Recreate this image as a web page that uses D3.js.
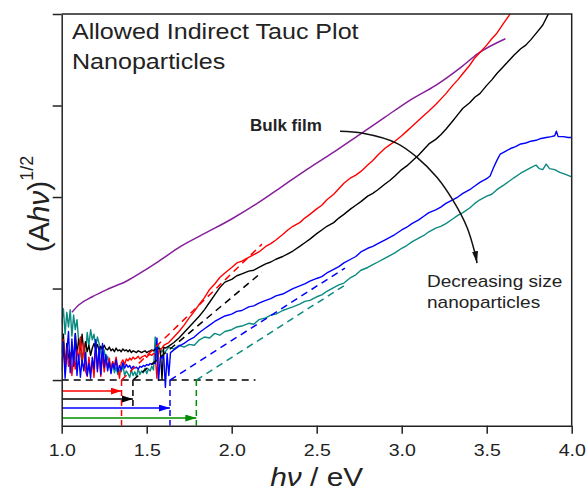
<!DOCTYPE html>
<html>
<head>
<meta charset="utf-8">
<script src="https://cdn.jsdelivr.net/npm/d3@7/dist/d3.min.js"></script>
<style>
  html, body { margin:0; padding:0; background:#fff; }
  svg { display:block; font-family: "Liberation Sans", Arial, sans-serif; }
</style>
</head>
<body>
<svg id="chart" width="588" height="491"></svg>
<script>
// Tauc plot (allowed indirect)

// noisy low-energy part, shared photon-energy grid (eV)
const lowX = [1.00,1.01,1.02,1.03,1.04,1.05,1.06,1.07,1.08,1.09,1.10,1.11,1.12,1.13,1.14,1.15,1.16,1.17,1.18,1.19,
  1.20,1.21,1.22,1.23,1.24,1.25,1.26,1.27,1.28,1.29,1.30,1.31,1.32,1.33,1.34,1.35,1.36,1.37,1.38,1.39,
  1.40,1.41,1.42,1.43,1.44,1.45,1.46,1.47,1.48,1.49,1.50,1.51,1.52,1.53,1.54,1.55,1.56,1.57,1.58,1.59,1.60];

const tealLow = [0.62,0.78,0.50,0.74,0.58,0.77,0.48, 0.71,0.55,0.66,0.42, 0.30,0.18,0.33,0.24,
  0.52,0.38,0.55,0.44,0.50,0.36,0.47,0.40, 0.30,0.22,0.33,0.19,0.26,0.15,
  0.12,0.20,0.08,0.14,0.06,0.11,0.09,0.16,0.05,0.10,
  0.07,0.03,0.11,0.05,0.09,0.04,0.12,0.06,0.10,0.08,0.13,0.07,0.12,0.10,0.15,0.11,
  0.47,0.20,0.38,0.29,0.33,0.30];
const blackLow = [0.30,0.50,0.12,0.40, 0.25,0.18,0.35,0.22,0.51,0.28, 0.45,0.33,0.50,0.30,0.42,
  0.31,0.38,0.27,0.35,0.40, 0.34,0.39,0.32,0.37,0.33,0.38,0.34,
  0.33,0.36,0.32,0.34,0.31,0.35,0.32,0.33,0.31,0.34,0.32,0.33,
  0.31,0.33,0.30,0.32,0.31,0.30,0.32,0.31,0.30,0.31,0.32,0.30,0.31,0.32,0.33,0.32,0.34,
  0.33,0.35,0.34,0.01,0.36];
const redLow = [0.20,0.44,0.08,0.35, 0.15,0.30,0.05,0.26,0.12,0.33, 0.22,0.47,0.18,0.40,0.10,
  0.04,0.25,0.08,0.20,0.03, 0.37,0.12,0.30,0.04,0.28,0.09,0.22,
  0.14,0.24,0.11,0.20,0.16,0.25,0.13,0.02,0.19,0.22,0.17,0.23,
  0.21,0.24,0.22,0.25,0.23,0.24,0.26,0.23,0.25,0.26,0.27,0.25,0.27,0.28,0.27,0.29,0.28,
  0.02,0.31,0.33,0.35,0.38];
const blueLow = [0.10,0.42,0.02,0.30, 0.53,0.08,0.45,0.15,0.50,0.05, 0.28,0.03,0.22,0.10,0.30,
  0.05,0.18,0.02,0.25,0.12, 0.44,0.09,0.36,0.06,0.40,0.14,0.28,
  0.10,0.20,0.07,0.18,0.12,0.22,0.09,0.16,0.11,0.19,0.13,0.17,
  0.14,0.16,0.12,0.15,0.13,0.14,0.12,0.15,0.14,0.16,0.15,0.17,0.16,0.18,0.17,0.19,0.18,
  0.46,0.00,0.25,0.24,0.27];

// rising part, [eV, (A hv)^1/2]
const tealHigh = [[1.61,0.31],[1.63,0.36],[1.66,0.34],[1.69,0.38],[1.72,0.36],[1.75,0.39],[1.78,0.38],[1.81,0.44],
  [1.84,0.47],[1.87,0.46],[1.90,0.51],[1.93,0.49],[1.96,0.53],[2.00,0.55],[2.03,0.58],[2.06,0.59],[2.10,0.62],
  [2.13,0.61],[2.16,0.66],[2.20,0.68],[2.23,0.71],[2.26,0.72],[2.30,0.76],[2.33,0.78],[2.36,0.80],[2.40,0.83],
  [2.43,0.86],[2.46,0.87],[2.50,0.91],[2.53,0.93],[2.56,0.97],[2.60,1.01],[2.63,1.04],[2.66,1.06],[2.70,1.12],
  [2.73,1.15],[2.76,1.20],[2.80,1.23],[2.83,1.26],[2.86,1.29],[2.90,1.33],[2.93,1.36],[2.96,1.39],[3.00,1.44],
  [3.03,1.47],[3.06,1.51],[3.10,1.55],[3.13,1.58],[3.16,1.62],[3.20,1.66],[3.23,1.68],[3.26,1.71],[3.30,1.76],
  [3.33,1.80],[3.36,1.83],[3.40,1.88],[3.43,1.93],[3.46,1.97],[3.50,2.01],[3.53,2.03],[3.56,2.08],[3.60,2.13],
  [3.63,2.17],[3.66,2.21],[3.70,2.26],[3.73,2.29],[3.76,2.32],[3.79,2.35],[3.81,2.31],[3.83,2.30],[3.85,2.36],
  [3.87,2.31],[3.90,2.30],[3.93,2.27],[3.96,2.25],[4.00,2.22]];
const blackHigh = [[1.61,0.35],[1.63,0.37],[1.66,0.41],[1.69,0.46],[1.72,0.52],[1.75,0.58],[1.78,0.64],[1.81,0.70],
  [1.84,0.77],[1.87,0.85],[1.90,0.93],[1.93,1.01],[1.96,1.07],[2.00,1.10],[2.03,1.14],[2.06,1.16],[2.10,1.19],
  [2.13,1.20],[2.16,1.23],[2.20,1.27],[2.23,1.29],[2.26,1.32],[2.30,1.35],[2.33,1.38],[2.36,1.41],[2.40,1.46],
  [2.43,1.50],[2.46,1.54],[2.50,1.60],[2.53,1.64],[2.56,1.68],[2.60,1.72],[2.63,1.77],[2.66,1.81],[2.70,1.87],
  [2.73,1.91],[2.76,1.95],[2.80,2.01],[2.83,2.04],[2.86,2.08],[2.90,2.14],[2.93,2.18],[2.96,2.23],[3.00,2.30],
  [3.03,2.34],[3.06,2.39],[3.10,2.46],[3.13,2.52],[3.16,2.58],[3.20,2.63],[3.23,2.68],[3.26,2.74],[3.30,2.83],
  [3.33,2.90],[3.36,2.97],[3.40,3.03],[3.43,3.09],[3.46,3.13],[3.50,3.22],[3.53,3.28],[3.56,3.35],[3.60,3.43],
  [3.63,3.49],[3.66,3.55],[3.70,3.62],[3.73,3.66],[3.76,3.72],[3.80,3.81],[3.83,3.88],[3.86,3.99],[3.88,4.06]];
const redHigh = [[1.61,0.39],[1.63,0.41],[1.66,0.47],[1.69,0.53],[1.72,0.60],[1.75,0.68],[1.78,0.75],[1.81,0.83],
  [1.84,0.90],[1.87,0.99],[1.90,1.05],[1.93,1.12],[1.96,1.17],[2.00,1.23],[2.03,1.28],[2.06,1.30],[2.10,1.34],
  [2.13,1.37],[2.16,1.40],[2.20,1.46],[2.23,1.49],[2.26,1.53],[2.30,1.59],[2.33,1.64],[2.36,1.68],[2.40,1.72],
  [2.43,1.77],[2.46,1.81],[2.50,1.87],[2.53,1.91],[2.56,1.97],[2.60,2.03],[2.63,2.09],[2.66,2.15],[2.70,2.21],
  [2.73,2.24],[2.76,2.28],[2.80,2.35],[2.83,2.40],[2.86,2.46],[2.90,2.53],[2.93,2.57],[2.96,2.61],[3.00,2.67],
  [3.03,2.72],[3.06,2.77],[3.10,2.84],[3.13,2.89],[3.16,2.94],[3.20,3.01],[3.23,3.07],[3.26,3.13],[3.30,3.22],
  [3.33,3.28],[3.36,3.35],[3.40,3.44],[3.43,3.52],[3.46,3.58],[3.50,3.66],[3.53,3.73],[3.56,3.79],[3.60,3.90],
  [3.63,3.98],[3.66,4.08]];
const blueHigh = [[1.61,-0.08],[1.62,0.29],[1.63,0.05],[1.64,0.30],[1.66,0.33],[1.69,0.37],[1.72,0.40],[1.75,0.44],
  [1.78,0.47],[1.81,0.52],[1.84,0.56],[1.87,0.60],[1.90,0.64],[1.93,0.67],[1.96,0.70],[2.00,0.72],[2.03,0.75],
  [2.06,0.76],[2.10,0.80],[2.13,0.81],[2.16,0.84],[2.20,0.87],[2.23,0.89],[2.26,0.92],[2.30,0.94],[2.33,0.97],
  [2.36,1.00],[2.40,1.03],[2.43,1.05],[2.46,1.08],[2.50,1.11],[2.53,1.13],[2.56,1.17],[2.60,1.21],[2.63,1.24],
  [2.66,1.28],[2.70,1.32],[2.73,1.35],[2.76,1.40],[2.80,1.44],[2.83,1.46],[2.86,1.49],[2.90,1.53],[2.93,1.56],
  [2.96,1.59],[3.00,1.64],[3.03,1.67],[3.06,1.71],[3.10,1.75],[3.13,1.79],[3.16,1.83],[3.20,1.86],[3.23,1.89],
  [3.26,1.93],[3.30,1.97],[3.33,2.00],[3.36,2.04],[3.40,2.08],[3.43,2.12],[3.46,2.16],[3.50,2.20],[3.52,2.23],
  [3.54,2.32],[3.56,2.40],[3.58,2.47],[3.61,2.50],[3.64,2.53],[3.67,2.55],[3.70,2.58],[3.73,2.59],[3.76,2.61],
  [3.79,2.62],[3.82,2.64],[3.85,2.65],[3.88,2.66],[3.90,2.67],[3.91,2.72],[3.92,2.66],[3.95,2.66],[3.98,2.65],[4.00,2.65]];

// bulk film (smooth)
const purpleX = [1.06,1.10,1.18,1.28,1.38,1.48,1.58,1.70,1.85,2.00,2.15,2.30,2.45,2.60,2.75,2.90,3.05,3.20,3.35,3.45,3.61];
const purpleY = [0.74,0.82,0.91,1.00,1.08,1.19,1.31,1.46,1.61,1.76,1.93,2.12,2.31,2.49,2.68,2.87,3.06,3.22,3.42,3.57,3.73];

// band-gap extrapolations: red, black, blue, teal
const gapX   = [1.352, 1.419, 1.637, 1.792];
const fitEndX = [2.178, 2.178, 2.666, 2.666];
const fitEndY = [1.485, 1.179, 1.223, 1.037];
const arrowY = [-0.12, -0.207, -0.306, -0.415];
const dropTo = [-0.5, -0.31, -0.5, -0.5];
const zeroLineEnd = 2.14;

// curved annotation arrow (data units)
const annotX = [2.637,2.772,2.972,3.09,3.207,3.301,3.384,3.431,3.443];
const annotY = [2.718,2.697,2.587,2.434,2.216,1.965,1.670,1.386,1.277];

const xMajor = [1.0,1.5,2.0,2.5,3.0,3.5,4.0];
const xMinor = [1.1,1.2,1.3,1.4,1.6,1.7,1.8,1.9,2.1,2.2,2.3,2.4,2.6,2.7,2.8,2.9,3.1,3.2,3.3,3.4,3.6,3.7,3.8,3.9];
const yMajor = [0,1,2,3,4];
const yMinor = [0.5,1.5,2.5,3.5];

const fitColors = ['#ff0000','#000000','#0000ff','#0a8a80'];
const arrowColors = ['#ff0000','#000000','#0000ff','#008c00'];

const svg = d3.select('#chart');
const ink = '#222';

const x = d3.scaleLinear().domain([1, 4]).range([61.7, 571.7]);
const y = d3.scaleLinear().domain([-0.5, 4]).range([425.8, 14]);

const defs = svg.append('defs');
defs.append('clipPath').attr('id','plot')
  .append('rect').attr('x', x(1)).attr('y', y(4)).attr('width', x(4)-x(1)).attr('height', y(-0.5)-y(4));

arrowColors.forEach((c,i) => {
  defs.append('marker').attr('id','ah'+i)
    .attr('markerUnits','userSpaceOnUse').attr('markerWidth',12).attr('markerHeight',8)
    .attr('refX',11).attr('refY',3.5).attr('orient','auto')
    .append('path').attr('d','M0,0 L11,3.5 L0,7 Z').attr('fill', c);
});
defs.append('marker').attr('id','ahk')
  .attr('markerUnits','userSpaceOnUse').attr('markerWidth',14).attr('markerHeight',8)
  .attr('refX',12).attr('refY',3).attr('orient','auto')
  .append('path').attr('d','M0,0 L12,3 L0,6 Z').attr('fill','#111');

const plot = svg.append('g').attr('clip-path','url(#plot)');
const line = d3.line().x(d=>x(d[0])).y(d=>y(d[1]));

// purple bulk film curve
plot.append('path')
  .attr('d', line.curve(d3.curveMonotoneX)(purpleX.map((v,i)=>[v, purpleY[i]])))
  .attr('fill','none').attr('stroke','#86209a').attr('stroke-width',1.5);
line.curve(d3.curveLinear);

// spectra (teal, black, red, blue)
const spectra = [
  {color:'#0a8a80', low: tealLow,  high: tealHigh},
  {color:'#000000', low: blackLow, high: blackHigh},
  {color:'#ff0000', low: redLow,   high: redHigh},
  {color:'#0000ff', low: blueLow,  high: blueHigh}
];
spectra.forEach(s => {
  const pts = lowX.map((v,i)=>[v, s.low[i]]).concat(s.high);
  plot.append('path').attr('d', line(pts))
    .attr('fill','none').attr('stroke', s.color).attr('stroke-width',1.4)
    .attr('stroke-linejoin','round');
});

// zero line
plot.append('line')
  .attr('x1', x(1)).attr('x2', x(zeroLineEnd)).attr('y1', y(0)).attr('y2', y(0))
  .attr('stroke','#000').attr('stroke-width',1.4).attr('stroke-dasharray','7,5');

// extrapolated fits
gapX.forEach((g,i) => {
  plot.append('line')
    .attr('x1', x(g)).attr('y1', y(0)).attr('x2', x(fitEndX[i])).attr('y2', y(fitEndY[i]))
    .attr('stroke', fitColors[i]).attr('stroke-width',1.5).attr('stroke-dasharray','7,5');
});

// band gap markers below zero
gapX.forEach((g,i) => {
  plot.append('line')
    .attr('x1', x(g)).attr('x2', x(g)).attr('y1', y(0)).attr('y2', y(dropTo[i]))
    .attr('stroke', arrowColors[i]).attr('stroke-width',1.5).attr('stroke-dasharray','6,4');
  plot.append('line')
    .attr('x1', x(1)).attr('x2', x(g)).attr('y1', y(arrowY[i])).attr('y2', y(arrowY[i]))
    .attr('stroke', arrowColors[i]).attr('stroke-width',1.5)
    .attr('marker-end','url(#ah'+i+')');
});

// axes
const gx = svg.append('g').attr('transform',`translate(0,${y(-0.5)})`);
gx.call(d3.axisBottom(x).tickValues(xMinor).tickSize(4).tickSizeOuter(0).tickFormat(''));
gx.call(d3.axisBottom(x).tickValues(xMajor).tickSize(8).tickSizeOuter(0).tickPadding(10).tickFormat(d3.format('.1f')));
const gy = svg.append('g').attr('transform',`translate(${x(1)},0)`);
gy.call(d3.axisLeft(y).tickValues(yMinor).tickSize(4).tickSizeOuter(0).tickFormat(''));
gy.call(d3.axisLeft(y).tickValues(yMajor).tickSize(9).tickSizeOuter(0).tickFormat(''));
svg.selectAll('.domain, .tick line').attr('stroke', ink).attr('stroke-width',1.5);
gx.selectAll('.tick text')
  .attr('font-size',17).attr('fill', ink)
  .attr('font-family','"Liberation Sans", Arial, sans-serif')
  .attr('transform','scale(1.15,1)');

// frame top & right
svg.append('path')
  .attr('d', `M${x(1)},${y(4)} H${x(4)} V${y(-0.5)}`)
  .attr('fill','none').attr('stroke', ink).attr('stroke-width',1.5);

// annotation arrow
svg.append('path')
  .attr('d', d3.line().x(d=>x(d[0])).y(d=>y(d[1])).curve(d3.curveCatmullRom)(annotX.map((v,i)=>[v, annotY[i]])))
  .attr('fill','none').attr('stroke','#111').attr('stroke-width',1.5)
  .attr('marker-end','url(#ahk)');

// texts
function label(px, py, str, size, opts = {}) {
  const t = svg.append('text')
    .attr('transform', `translate(${px},${py}) scale(${opts.sx || 1.15},1)`)
    .attr('font-size', size).attr('fill', ink)
    .attr('font-weight', opts.bold ? 'bold' : null)
    .attr('text-anchor', opts.anchor || 'start');
  t.text(str);
  return t;
}
label(72, 39, 'Allowed Indirect Tauc Plot', 22, {sx: 1.14});
label(72, 69, 'Nanoparticles', 22, {sx: 1.14});
label(250, 131, 'Bulk film', 17, {bold: true, sx: 1});
label(427, 287, 'Decreasing size', 17, {sx: 1.12});
label(427, 308, 'nanoparticles', 17, {sx: 1.12});

// x title
const xt = svg.append('text')
  .attr('transform', `translate(${(x(1)+x(4))/2},486) scale(1.15,1)`)
  .attr('font-size', 26).attr('fill', ink).attr('text-anchor','middle');
xt.append('tspan').attr('font-style','italic').text('hν');
xt.append('tspan').text(' / eV');

// y title
const yt = svg.append('text')
  .attr('transform', 'translate(49,204) rotate(-90)')
  .attr('font-size', 30).attr('fill', ink).attr('text-anchor','middle');
yt.append('tspan').text('(A');
yt.append('tspan').attr('font-style','italic').text('hν');
yt.append('tspan').text(')');
yt.append('tspan').attr('font-size', 18).attr('dy', -16).text('1/2');
</script>
</body>
</html>
